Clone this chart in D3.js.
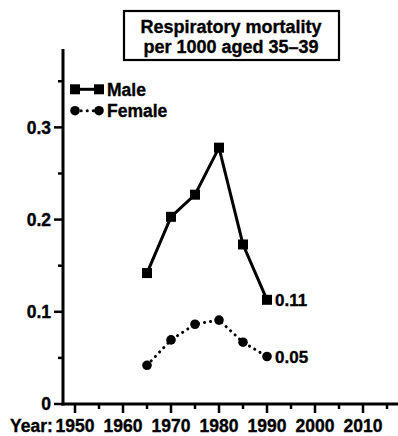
<!DOCTYPE html>
<html><head><meta charset="utf-8">
<script src="https://cdn.jsdelivr.net/npm/d3@7"></script>
<style>html,body{margin:0;padding:0;background:#fff}svg{display:block}text{font-family:"Liberation Sans",Arial,sans-serif;font-weight:bold;fill:#000;stroke:#000;stroke-width:0.35px}</style>
</head><body>
<script>
const years = [1965, 1970, 1975, 1980, 1985, 1990];
const male = [0.142, 0.203, 0.227, 0.278, 0.173, 0.113];
const female = [0.042, 0.0695, 0.0865, 0.091, 0.067, 0.0515];
const seriesNames = ["Male", "Female"];
const endLabels = ["0.11", "0.05"];
const xMajor = [1950, 1960, 1970, 1980, 1990, 2000, 2010];
const xMinor = [1955, 1965, 1975, 1985, 1995, 2005, 2015];
const yMajor = [0, 0.1, 0.2, 0.3];
const yMinor = [0.05, 0.15, 0.25, 0.35];
const titleLines = ["Respiratory mortality", "per 1000 aged 35\u201339"];

const W = 398, H = 436;
const svg = d3.select("body").append("svg").attr("width", W).attr("height", H);
const x = d3.scaleLinear().domain([1950, 2010]).range([75, 363]);
const y = d3.scaleLinear().domain([0, 0.385]).range([404, 49]);
const x0 = 63, yBase = 404;

// axes
const ax = svg.append("g").attr("stroke", "#000").attr("stroke-width", 3);
ax.append("line").attr("x1", x0).attr("x2", x0).attr("y1", y(0.385)).attr("y2", yBase + 1.5);
ax.append("line").attr("x1", x0 - 1.5).attr("x2", W).attr("y1", yBase).attr("y2", yBase);
yMajor.forEach(v => ax.append("line").attr("x1", x0 - 9).attr("x2", x0).attr("y1", y(v)).attr("y2", y(v)).attr("stroke-width", 2.5));
yMinor.forEach(v => ax.append("line").attr("x1", x0 - 5).attr("x2", x0).attr("y1", y(v)).attr("y2", y(v)).attr("stroke-width", 2.5));
xMajor.forEach(v => ax.append("line").attr("x1", x(v)).attr("x2", x(v)).attr("y1", yBase).attr("y2", yBase + 9).attr("stroke-width", 2.5));
xMinor.forEach(v => ax.append("line").attr("x1", x(v)).attr("x2", x(v)).attr("y1", yBase).attr("y2", yBase + 5).attr("stroke-width", 2.5));

const fs = 17.5;
yMajor.forEach(v => svg.append("text").attr("x", 51).attr("y", y(v)).attr("dy", "0.36em")
  .attr("text-anchor", "end").attr("font-size", fs).text(v === 0 ? "0" : d3.format(".1f")(v)));
xMajor.forEach(v => svg.append("text").attr("x", x(v)).attr("y", 432)
  .attr("text-anchor", "middle").attr("font-size", fs).text(v));
svg.append("text").attr("x", 10).attr("y", 432).attr("font-size", fs).text("Year:");

// lines
const line = d3.line().x((d, i) => x(years[i])).y(d => y(d));
svg.append("path").datum(male).attr("d", line).attr("fill", "none").attr("stroke", "#000").attr("stroke-width", 3);
svg.append("path").datum(female).attr("d", line).attr("fill", "none").attr("stroke", "#000")
  .attr("stroke-width", 3).attr("stroke-linecap", "round").attr("stroke-dasharray", "0.1,6");
const sq = 10;
svg.selectAll(".sq").data(male).enter().append("rect")
  .attr("x", (d, i) => x(years[i]) - sq / 2).attr("y", d => y(d) - sq / 2)
  .attr("width", sq).attr("height", sq).attr("fill", "#000");
svg.selectAll(".ci").data(female).enter().append("circle")
  .attr("cx", (d, i) => x(years[i])).attr("cy", d => y(d)).attr("r", 4.8).attr("fill", "#000");

// end labels
svg.append("text").attr("x", x(1990) + 8).attr("y", y(male[5])).attr("dy", "0.36em").attr("font-size", 17).text(endLabels[0]);
svg.append("text").attr("x", x(1990) + 8).attr("y", y(female[5])).attr("dy", "0.36em").attr("font-size", 17).text(endLabels[1]);

// legend
const lx1 = 75, lx2 = 99, ly1 = 89.3, ly2 = 110.7;
svg.append("line").attr("x1", lx1).attr("x2", lx2).attr("y1", ly1).attr("y2", ly1).attr("stroke", "#000").attr("stroke-width", 3);
[lx1, lx2].forEach(px => svg.append("rect").attr("x", px - sq / 2).attr("y", ly1 - sq / 2).attr("width", sq).attr("height", sq).attr("fill", "#000"));
svg.append("line").attr("x1", lx1).attr("x2", lx2).attr("y1", ly2).attr("y2", ly2).attr("stroke", "#000")
  .attr("stroke-width", 3).attr("stroke-linecap", "round").attr("stroke-dasharray", "0.1,6");
[lx1, lx2].forEach(px => svg.append("circle").attr("cx", px).attr("cy", ly2).attr("r", 4.8).attr("fill", "#000"));
svg.append("text").attr("x", 107).attr("y", ly1).attr("dy", "0.38em").attr("font-size", fs).text(seriesNames[0]);
svg.append("text").attr("x", 107).attr("y", ly2).attr("dy", "0.38em").attr("font-size", fs).text(seriesNames[1]);

// title box
svg.append("rect").attr("x", 124).attr("y", 11).attr("width", 215).attr("height", 49)
  .attr("fill", "#fff").attr("stroke", "#000").attr("stroke-width", 2.2);
titleLines.forEach((t, i) => svg.append("text").attr("x", 231).attr("y", 33 + i * 19.5)
  .attr("text-anchor", "middle").attr("font-size", 18).text(t));
</script>
</body></html>
